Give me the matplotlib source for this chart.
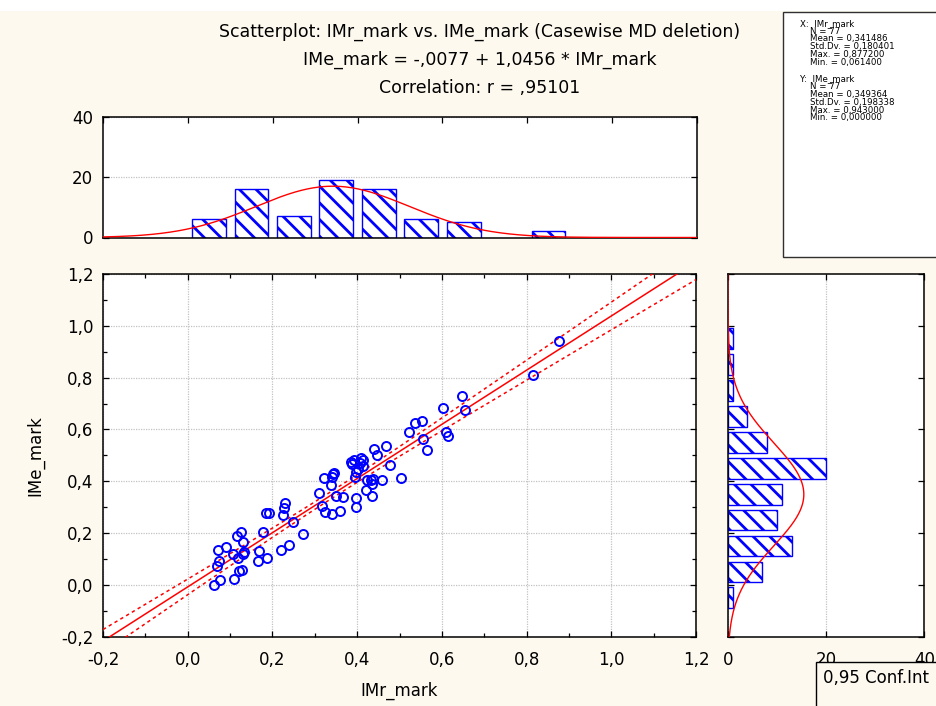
import numpy as np
import matplotlib
matplotlib.use("Agg")
import matplotlib.pyplot as plt
from matplotlib.patches import Rectangle
from matplotlib.ticker import MultipleLocator, FixedLocator, FuncFormatter

plt.rcParams['font.family'] = ['DejaVu Sans']
plt.rcParams['hatch.linewidth'] = 2.0

# ---- data: 77 cases ----
imr_mark = [0.0614, 0.076, 0.110, 0.127, 0.122, 0.068, 0.075, 0.119, 0.108, 0.131,
            0.134, 0.071, 0.090, 0.130, 0.116, 0.126, 0.167, 0.188, 0.168, 0.177,
            0.186, 0.191, 0.221, 0.240, 0.224, 0.227, 0.230, 0.249, 0.271, 0.311,
            0.316, 0.324, 0.341, 0.359, 0.322, 0.339, 0.344, 0.345, 0.349, 0.366,
            0.397, 0.398, 0.394, 0.397, 0.385, 0.393, 0.409, 0.415, 0.424, 0.437,
            0.434, 0.422, 0.434, 0.439, 0.447, 0.467, 0.459, 0.478, 0.503, 0.523,
            0.537, 0.554, 0.556, 0.565, 0.603, 0.610, 0.614, 0.647, 0.655, 0.816,
            0.8772, 0.340, 0.388, 0.407, 0.413, 0.433, 0.402]
ime_mark = [0.000, 0.017, 0.022, 0.058, 0.052, 0.073, 0.093, 0.103, 0.118, 0.120,
            0.126, 0.135, 0.148, 0.166, 0.190, 0.205, 0.093, 0.102, 0.130, 0.205,
            0.277, 0.279, 0.136, 0.153, 0.268, 0.296, 0.317, 0.244, 0.196, 0.353,
            0.305, 0.283, 0.274, 0.285, 0.414, 0.386, 0.429, 0.433, 0.345, 0.341,
            0.336, 0.302, 0.418, 0.434, 0.475, 0.483, 0.489, 0.459, 0.403, 0.409,
            0.390, 0.367, 0.344, 0.524, 0.503, 0.537, 0.403, 0.464, 0.413, 0.591,
            0.624, 0.634, 0.564, 0.519, 0.682, 0.590, 0.575, 0.731, 0.676, 0.811,
            0.943, 0.418, 0.468, 0.472, 0.481, 0.406, 0.447]

x_name, y_name = "IMr_mark", "IMe_mark"
intercept, slope, r_value = -0.0077, 1.0456, 0.95101
n_cases = 77
x_stats = {"Mean": 0.341486, "Std.Dv.": 0.180401, "Max.": 0.877200, "Min.": 0.061400}
y_stats = {"Mean": 0.349364, "Std.Dv.": 0.198338, "Max.": 0.943000, "Min.": 0.000000}
conf_level = 0.95
t_crit = 1.992          # two-sided 95 % quantile, 75 d.f.

x_bins = np.round(np.arange(0.0, 1.0001, 0.1), 2)    # [a, b)
y_bins = np.round(np.arange(-0.1, 1.0001, 0.1), 2)   # (a, b]
bin_w = 0.1

# ---- styling ----
CREAM = "#fdf9ee"
BLUE = "#0000ff"
RED = "#ff0000"
GRID = "#c2c2c2"
W, H = 936, 706
TICK_FS = 12


def comma(v, digits=1):
    s = f"{v:.{digits}f}".replace(".", ",")
    return "0" + s[1:] if s.startswith("-0") and float(s.replace(",", ".")) == 0 else s


def rect(l, t, r, b):
    return [l / W, 1 - b / H, (r - l) / W, (b - t) / H]


x = np.asarray(imr_mark)
y = np.asarray(ime_mark)

fig = plt.figure(figsize=(W / 100, H / 100), dpi=100, facecolor=CREAM)
fig.add_artist(Rectangle((0, 1 - 11 / H), 1, 11 / H, transform=fig.transFigure,
                         facecolor="white", edgecolor="none", zorder=0))

ax = fig.add_axes(rect(103, 274, 696, 636.7))
axt = fig.add_axes(rect(103, 117, 697, 237.5))
axr = fig.add_axes(rect(727.7, 274, 924.3, 636.7))

for a in (ax, axt, axr):
    a.set_facecolor("white")
    for s in a.spines.values():
        s.set_linewidth(1.1)
        s.set_color("black")
    a.tick_params(which="both", direction="in", top=True, right=True,
                  labelsize=TICK_FS, color="black", width=0.9)
    a.tick_params(which="major", length=4)
    a.tick_params(which="minor", length=3)

# ---- scatter panel ----
ax.set_xlim(-0.2, 1.2)
ax.set_ylim(-0.2, 1.2)
ax.xaxis.set_major_locator(MultipleLocator(0.2))
ax.yaxis.set_major_locator(MultipleLocator(0.2))
ax.xaxis.set_minor_locator(MultipleLocator(0.1))
ax.yaxis.set_minor_locator(MultipleLocator(0.1))
fmt = FuncFormatter(lambda v, p: comma(v))
ax.xaxis.set_major_formatter(fmt)
ax.yaxis.set_major_formatter(fmt)
ax.tick_params(axis="x", pad=10)
ax.tick_params(axis="y", pad=7)
ax.grid(True, which="major", color=GRID, linestyle=(0, (1, 1)), linewidth=0.9)
ax.set_axisbelow(True)

xs = np.linspace(-0.2, 1.2, 300)
yhat = intercept + slope * xs
x_mean, x_sd = x_stats["Mean"], x_stats["Std.Dv."]
y_sd = y_stats["Std.Dv."]
s_res = y_sd * np.sqrt(1 - r_value ** 2) * np.sqrt((n_cases - 1) / (n_cases - 2))
half = t_crit * s_res * np.sqrt(1 / n_cases + (xs - x_mean) ** 2 / ((n_cases - 1) * x_sd ** 2))
ax.plot(xs, yhat, color=RED, lw=1.1, zorder=3)
ax.plot(xs, yhat + half, color=RED, lw=1.1, linestyle=(0, (2.2, 2.2)), zorder=3)
ax.plot(xs, yhat - half, color=RED, lw=1.1, linestyle=(0, (2.2, 2.2)), zorder=3)
ax.plot(x, y, "o", mfc="none", mec=BLUE, ms=6.5, mew=1.4, zorder=4)

ax.set_xlabel(x_name, fontsize=12)
ax.xaxis.set_label_coords(0.5, -(682 - 636.7) / 362.7)
ax.set_ylabel(y_name, fontsize=12)
ax.yaxis.set_label_coords((44 - 103) / 593, 0.5)

# ---- top histogram (x) ----
x_counts, _ = np.histogram(x, bins=x_bins)
x_centers = x_bins[:-1] + bin_w / 2
keep = x_counts > 0
axt.bar(x_centers[keep], x_counts[keep], width=0.08, facecolor="white",
        edgecolor=BLUE, hatch="\\\\", linewidth=1.0, zorder=2)
gx = np.linspace(-0.2, 1.2, 400)
axt.plot(gx, n_cases * bin_w * np.exp(-0.5 * ((gx - x_mean) / x_sd) ** 2) / (x_sd * np.sqrt(2 * np.pi)),
         color=RED, lw=1.0, zorder=3)
axt.set_xlim(-0.2, 1.2)
axt.set_ylim(0, 40)
axt.xaxis.set_major_locator(MultipleLocator(0.2))
axt.yaxis.set_major_locator(FixedLocator([0, 20, 40]))
axt.tick_params(labelbottom=False, bottom=False)
axt.tick_params(axis="y", pad=7)
axt.grid(True, axis="y", color=GRID, linestyle=(0, (1, 1)), linewidth=0.9)
axt.set_axisbelow(True)

# ---- right histogram (y) ----
y_counts = np.array([np.sum((y > lo) & (y <= hi)) for lo, hi in zip(y_bins[:-1], y_bins[1:])])
y_centers = y_bins[:-1] + bin_w / 2
keep = y_counts > 0
axr.barh(y_centers[keep], y_counts[keep], height=0.08, left=0, facecolor="white",
         edgecolor=BLUE, hatch="\\\\", linewidth=1.0, zorder=2)
gy = np.linspace(-0.2, 1.2, 400)
y_mean = y_stats["Mean"]
axr.plot(n_cases * bin_w * np.exp(-0.5 * ((gy - y_mean) / y_sd) ** 2) / (y_sd * np.sqrt(2 * np.pi)), gy,
         color=RED, lw=1.0, zorder=3)
axr.set_ylim(-0.2, 1.2)
axr.set_xlim(0, 40)
axr.xaxis.set_major_locator(FixedLocator([0, 20, 40]))
axr.yaxis.set_major_locator(MultipleLocator(0.2))
axr.tick_params(labelleft=False)
axr.tick_params(axis="x", pad=10)
axr.grid(True, axis="x", color=GRID, linestyle=(0, (1, 1)), linewidth=0.9)
axr.set_axisbelow(True)

# ---- titles ----
title_lines = [
    f"Scatterplot: {x_name} vs. {y_name} (Casewise MD deletion)",
    f"{y_name} = {comma(intercept, 4).replace('-0,', '-,')} + {comma(slope, 4)} * {x_name}",
    f"Correlation: r = {comma(r_value, 5)[1:]}",
]
for line, yb in zip(title_lines, (36.5, 65.0, 93.0)):
    fig.text(480 / W, 1 - yb / H, line, ha="center", va="baseline", fontsize=12.5)

# ---- descriptive statistics box ----
fig.add_artist(Rectangle((782.5 / W, 1 - 257 / H), (W - 782.5) / W + 0.01, (257 - 11.5) / H,
                         transform=fig.transFigure, facecolor="white",
                         edgecolor="#303030", linewidth=1.0, zorder=5))
for tag, name, st, y0 in (("X:", x_name, x_stats, 23.3), ("Y:", y_name, y_stats, 79.0)):
    fig.text(800.5 / W, 1 - y0 / H, f"{tag}  {name}", fontsize=6.2, va="center", zorder=6)
    items = [f"N = {n_cases}"] + [f"{k} = {comma(v, 6)}" for k, v in st.items()]
    for i, s in enumerate(items):
        fig.text(810 / W, 1 - (y0 + 7.75 * (i + 1)) / H, s, fontsize=6.2, va="center", zorder=6)

# ---- confidence legend box ----
fig.add_artist(Rectangle((816 / W, -0.01), (W - 816) / W + 0.01, (706 - 661.5) / H + 0.01,
                         transform=fig.transFigure, facecolor=CREAM,
                         edgecolor="black", linewidth=1.0, zorder=5))
fig.text(823 / W, 1 - 683 / H, f"{comma(conf_level, 2)} Conf.Int", fontsize=12,
         va="baseline", ha="left", zorder=6)

fig.savefig("out.png", dpi=100, facecolor=CREAM)
